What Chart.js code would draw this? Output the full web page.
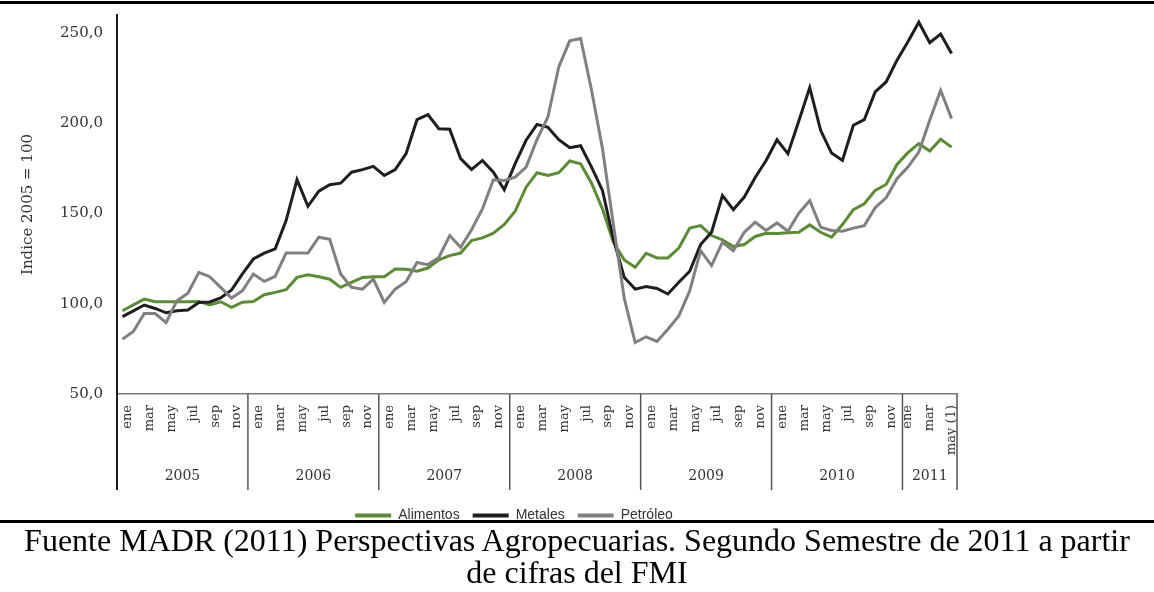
<!DOCTYPE html>
<html><head><meta charset="utf-8">
<script src="https://cdn.jsdelivr.net/npm/chart.js@4.4.1/dist/chart.umd.min.js"></script>
<style>
html,body{margin:0;padding:0;background:#fff;}
body{width:1154px;height:592px;position:relative;overflow:hidden;}
#topline{position:absolute;left:0;top:1px;width:1154px;height:3px;background:#000;}
#wrap{position:absolute;left:0;top:0;width:1154px;height:560px;}
#botline{position:absolute;left:0;top:520px;width:1154px;height:3px;background:#000;}
#cap{position:absolute;left:0;top:524px;width:1154px;text-align:center;font-family:"Liberation Serif","Times New Roman",serif;font-size:32px;line-height:32px;color:#000;}
</style></head>
<body>
<div id="topline"></div>
<div id="wrap"><canvas id="c" width="1154" height="560"></canvas></div>
<div id="botline"></div>
<div id="cap">Fuente MADR (2011) Perspectivas Agropecuarias. Segundo Semestre de 2011 a partir<br>de cifras del FMI</div>
<script>
const years = ['2005','2006','2007','2008','2009','2010','2011'];
const monthsPerYear = [12,12,12,12,12,12,5];
const monthNames = ['ene','feb','mar','abr','may','jun','jul','ago','sep','oct','nov','dic'];
const lastLabel = 'may (1)';
const yTicks = [50,100,150,200,250];

const alimentos = [96.1,99.4,102.6,101.1,101.1,101.1,101.1,101.3,99.4,101.1,98.0,100.9,
  101.3,105.0,106.3,107.8,114.6,116.1,115.0,113.6,109.1,111.9,114.6,115.0,
  115.0,119.3,119.1,118.0,119.8,124.3,126.7,128.1,135.0,136.5,139.1,143.9,
  151.3,164.6,172.6,171.1,172.6,179.1,177.6,166.8,152.6,134.1,124.3,120.2,
  128.0,125.4,125.4,130.9,142.0,143.3,137.8,135.4,131.7,132.8,137.3,139.1,
  138.9,139.3,139.6,143.7,139.6,136.9,143.9,152.2,155.4,162.8,166.1,177.2,
  183.7,188.7,184.6,191.1,186.8];
const metales = [92.9,96.1,99.3,97.4,95.0,96.1,96.5,100.7,101.0,103.2,107.6,116.5,
  124.8,128.0,130.4,146.1,168.7,154.0,162.4,166.0,166.8,172.9,174.3,176.1,
  171.1,174.4,183.2,202.0,204.8,197.0,196.7,180.4,174.4,179.4,172.9,163.2,
  177.6,190.6,199.4,197.8,190.9,186.5,187.6,175.7,162.8,136.0,114.6,108.1,
  109.6,108.5,105.4,111.9,118.0,132.8,139.6,160.0,152.2,159.1,170.0,179.4,
  190.9,183.2,201.3,219.8,196.1,183.5,179.4,198.9,202.0,217.4,222.9,235.0,
  245.2,256.0,244.6,249.4,238.7];
const petroleo = [80.4,84.6,94.6,94.6,89.6,101.7,105.9,117.4,115.0,109.1,103.2,107.2,
  116.5,112.4,115.2,128.1,128.1,128.1,136.9,135.7,116.5,109.1,108.1,113.7,
  100.7,108.1,112.2,122.9,121.7,125.7,137.8,131.3,141.0,152.6,168.7,168.3,
  170.2,175.7,191.0,203.5,231.3,245.7,247.0,218.3,186.0,144.0,103.0,78.5,
  81.7,79.1,85.9,93.3,107.2,129.4,121.1,134.1,129.4,139.6,145.2,140.6,
  144.8,140.2,150.2,157.2,142.4,140.6,140.2,141.9,143.3,153.2,158.7,169.3,
  175.7,184.1,201.7,218.3,202.6];

// category labels: one per month
const categories = [];
years.forEach((y, yi) => {
  for (let m = 0; m < monthsPerYear[yi]; m++) categories.push(monthNames[m]);
});
categories[categories.length - 1] = lastLabel;

const yearStarts = [];
{ let s = 0; monthsPerYear.forEach(n => { yearStarts.push(s); s += n; }); yearStarts.push(s); }

const serif = 'DejaVu Serif';

const yearPlugin = {
  id: 'yearGroups',
  afterDraw(chart) {
    const xs = chart.scales.x, ctx = chart.ctx, area = chart.chartArea;
    const step = xs.getPixelForValue(1) - xs.getPixelForValue(0);
    const edge = i => xs.getPixelForValue(i) - step / 2;
    const top = area.bottom, bottom = area.bottom + 96;
    ctx.save();
    yearStarts.forEach((s, k) => {
      const x = edge(s);
      ctx.beginPath();
      if (k === 0) { ctx.strokeStyle = '#1e1e1e'; ctx.lineWidth = 2; }
      else { ctx.strokeStyle = '#555'; ctx.lineWidth = 1.5; }
      ctx.moveTo(x, top); ctx.lineTo(x, bottom); ctx.stroke();
    });
    ctx.fillStyle = '#333';
    ctx.font = '14px "' + serif + '"';
    ctx.textAlign = 'center'; ctx.textBaseline = 'middle';
    years.forEach((y, k) => {
      const x = (edge(yearStarts[k]) + edge(yearStarts[k + 1])) / 2;
      ctx.fillText(y, x, area.bottom + 82);
    });
    ctx.restore();
  }
};

// month labels sit slightly right of their point in full years, centred in the last (partial) year
const labelNudge = {
  id: 'labelNudge',
  beforeDraw(chart) {
    const xs = chart.scales.x;
    if (typeof xs._computeLabelItems !== 'function') return;
    const items = xs._computeLabelItems(chart.chartArea);
    if (items.length !== xs.ticks.length) return;
    const lastYearStart = yearStarts[yearStarts.length - 2];
    items.forEach((it, i) => {
      if (it.options && it.options.translation) it.options.translation[0] += (i < lastYearStart ? 5.5 : 0);
    });
    xs._labelItems = items;
  }
};

const legendShift = {
  id: 'legendShift',
  afterLayout(chart) {
    const lg = chart.legend;
    if (lg) { lg.left += 26; lg.right += 26; }
  }
};

new Chart(document.getElementById('c'), {
  type: 'line',
  data: {
    labels: categories,
    datasets: [
      { label: 'Alimentos', data: alimentos, borderColor: '#5b8c33', backgroundColor: '#5b8c33', borderWidth: 3, pointRadius: 0, tension: 0, order: 2 },
      { label: 'Metales', data: metales, borderColor: '#1e1e1e', backgroundColor: '#1e1e1e', borderWidth: 3, pointRadius: 0, tension: 0, order: 1 },
      { label: 'Petróleo', data: petroleo, borderColor: '#808080', backgroundColor: '#808080', borderWidth: 3, pointRadius: 0, tension: 0, order: 0 }
    ]
  },
  options: {
    responsive: false,
    animation: false,
    layout: { padding: { left: 19, right: 197, top: 15, bottom: 27.5 } },
    scales: {
      x: {
        type: 'category',
        offset: true,
        grid: { display: false, drawTicks: false },
        border: { display: true, color: '#7a7a7a', width: 1.5 },
        ticks: {
          autoSkip: false, minRotation: 90, maxRotation: 90, padding: 11,
          color: '#333', font: { family: serif, size: 13 },
          callback: function (v, i) { return i % 2 === 0 ? this.getLabelForValue(v) : ''; }
        },
        afterFit: s => { s.height = 101.5; }
      },
      y: {
        min: 50, max: 260,
        afterBuildTicks: s => { s.ticks = yTicks.map(v => ({ value: v })); },
        ticks: {
          padding: 14, color: '#333', font: { family: serif, size: 15 },
          callback: v => v.toFixed(1).replace('.', ',')
        },
        grid: { display: false, drawTicks: false },
        border: { display: true, color: '#1e1e1e', width: 2 },
        title: { display: true, text: 'Indice 2005 = 100', color: '#333', font: { family: serif, size: 15 }, padding: 0 },
        afterFit: s => { s.width = 98; s.paddingTop = 0; s.paddingBottom = 0; }
      }
    },
    plugins: {
      legend: {
        position: 'bottom',
        labels: {
          boxWidth: 36, boxHeight: 4, padding: 13, color: '#333',
          font: { family: 'Liberation Sans', size: 14 },
          sort: (a, b) => a.datasetIndex - b.datasetIndex,
          generateLabels: chart => {
            const items = Chart.defaults.plugins.legend.labels.generateLabels(chart);
            items.forEach(it => { it.lineWidth = 0; });
            return items;
          }
        }
      },
      tooltip: { enabled: false }
    }
  },
  plugins: [yearPlugin, labelNudge, legendShift]
});
</script>
</body></html>
